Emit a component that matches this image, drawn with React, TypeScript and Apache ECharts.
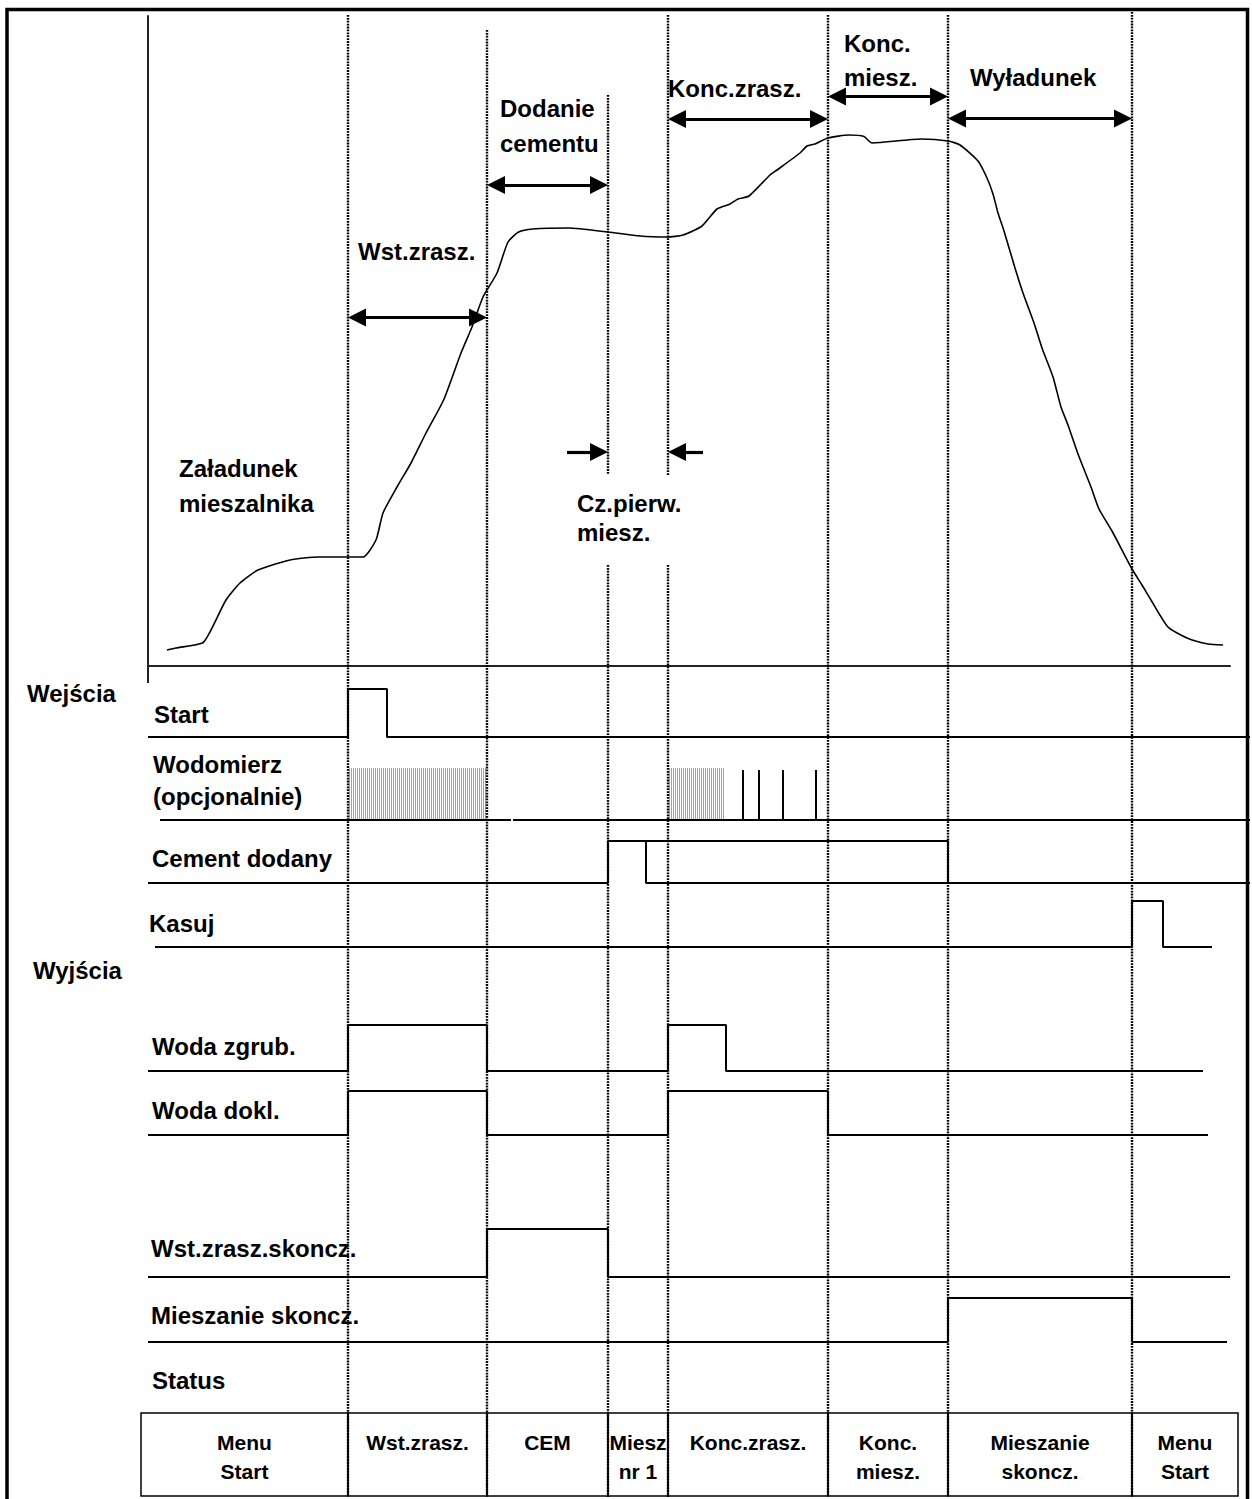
import React, { useEffect, useRef } from "react";
import * as echarts from "echarts";

// ---------------- DATA ----------------
// time axis in arbitrary units; phase boundaries (dotted verticals)
const phaseBounds = [50, 84.75, 115, 130, 170, 200, 246];

// mixer load curve (time, level %)
const curveTime = [4.75, 7, 13.6, 15.75, 19.5, 23, 27.5, 35.5, 42.65, 49.75, 53.75, 57, 58.75, 62.25, 65.75, 69.5, 73.9, 78.25, 81, 83.75, 87.25, 90, 92.65, 96.25, 105.15, 115, 123, 129.75, 133.75, 138.5, 142.25, 145.5, 147.5, 150.25, 155.5, 157.25, 163, 164.75, 166.75, 170, 175.25, 179, 181, 193.25, 200, 203, 207.5, 209.75, 211.25, 212.5, 214, 216.75, 218.75, 221.5, 223.5, 226.25, 228.25, 230, 232.5, 235.75, 237.75, 241, 246, 248.5, 250.75, 255, 259.75, 265, 268.75];
const curveLevel = [3.2, 3.6, 4.6, 7.2, 13.2, 16.6, 19.2, 21.2, 21.8, 21.8, 21.8, 25.2, 30.6, 35.8, 40.6, 46.6, 53.2, 62.6, 67.8, 73.8, 78.6, 84.8, 86.8, 87.4, 87.6, 86.8, 86, 85.8, 86.2, 88, 91.4, 92.4, 93.4, 94, 98.2, 99.2, 102.6, 104, 104.4, 105.6, 106.2, 105.9, 104.6, 105.4, 105, 104.2, 101, 97.6, 94.4, 90.6, 87, 79.6, 74.6, 68.6, 63.6, 57.8, 51.8, 48.2, 42.4, 35.8, 31.4, 27, 19.4, 16.2, 13.2, 7.8, 5.6, 4.4, 4.2];

// phase annotations (double arrows over time spans)
const phaseArrowSpans = [[50, 84.75], [84.75, 115], [130, 170], [170, 200], [200, 246]];
const phaseArrowLevels = [69.7, 96.2, 109.4, 113.9, 109.5];
const mixTimeArrows = [[104.75, 115], [138.75, 130]]; // from -> to (single-headed)
const mixTimeLevel = 42.8;

// digital signals: [time, state]
const sigStart = [[0, 0], [50, 1], [59.75, 0], [275.5, 0]];
const sigWodomierzBase = [[3, 0], [90.75, 0], [91, null], [91.25, 0], [275.5, 0]];
const wodomierzBursts = [[50, 84.75], [130, 144.25]];
const wodomierzPulses = [148.75, 152.75, 158.75, 167];
const sigCementA = [[0, 0], [115, 1], [124.5, 0], [275.5, 0]];
const sigCementB = [[124.5, 1], [200, 0]];
const sigKasuj = [[1.75, 0], [246, 1], [253.75, 0], [266, 0]];
const sigWodaZgrub = [[0, 0], [50, 1], [84.75, 0], [130, 1], [144.5, 0], [263.75, 0]];
const sigWodaDokl = [[0, 0], [50, 1], [84.75, 0], [130, 1], [170, 0], [265, 0]];
const sigWstSkoncz = [[0, 0], [84.75, 1], [115, 0], [270.5, 0]];
const sigMieszSkoncz = [[0, 0], [200, 1], [246, 0], [269.75, 0]];

// status table
const statusSpans = [[-1.75, 50], [50, 84.75], [84.75, 115], [115, 130], [130, 170], [170, 200], [200, 246], [246, 272.5]];
const statusLabels = ["Menu\nStart", "Wst.zrasz.", "CEM", "Miesz\nnr 1", "Konc.zrasz.", "Konc.\nmiesz.", "Mieszanie\nskoncz.", "Menu\nStart"];

// texts
const phaseTexts = ["Załadunek", "mieszalnika", "Wst.zrasz.", "Dodanie", "cementu", "Konc.zrasz.", "Konc.", "miesz.", "Wyładunek", "Cz.pierw.", "miesz."];
const signalTexts = ["Wejścia", "Wyjścia", "Start", "Wodomierz", "(opcjonalnie)", "Cement dodany", "Kasuj", "Woda zgrub.", "Woda dokl.", "Wst.zrasz.skoncz.", "Mieszanie skoncz.", "Status"];

// ---------------- LAYOUT ----------------
const FONT = '"Liberation Sans", Arial, sans-serif';
const LEFT = 148;
const phaseTextPos = [[179, 468], [179, 503], [358, 251], [500, 108], [500, 143], [668, 88], [844, 43], [844, 77], [970, 77], [577, 503], [577, 532]];
const signalTextPos = [[27, 693], [33, 970], [154, 714], [153, 764], [153, 796], [152, 858], [149, 923], [152, 1046], [152, 1110], [151, 1248], [151, 1315], [152, 1380]];
// [highY, lowY] of each signal row
const rowBands = [[689, 737], [768, 820], [841, 883], [901, 947], [1025, 1071], [1091, 1135], [1229, 1277], [1298, 1342]];
const boundTop = [15, 30, 95, 15, 15, 15, 12];
const HEAD = 18;
const HEAD_T = HEAD / 2 / 4;

function buildOption() {
  const grids: any[] = [];
  const xAxes: any[] = [];
  const yAxes: any[] = [];
  const series: any[] = [];

  // grid 0: curve
  grids.push({ left: LEFT, top: 16, width: 1082, height: 650 });
  const axLine = { show: true, onZero: false, lineStyle: { color: "#222", width: 2 } };
  xAxes.push({ gridIndex: 0, type: "value", min: 0, max: 270.5, axisLine: axLine, axisTick: { show: false }, axisLabel: { show: false }, splitLine: { show: false } });
  yAxes.push({ gridIndex: 0, type: "value", min: 0, max: 130, axisLine: axLine, axisTick: { show: false }, axisLabel: { show: false }, splitLine: { show: false } });

  const arrowData: any[] = phaseArrowSpans.map((s, i) => [
    { coord: [s[0] + HEAD_T, phaseArrowLevels[i]] },
    { coord: [s[1] - HEAD_T, phaseArrowLevels[i]] },
  ]);
  mixTimeArrows.forEach((s) => {
    const dir = s[1] > s[0] ? 1 : -1;
    arrowData.push([
      { coord: [s[0], mixTimeLevel], symbol: "none" },
      { coord: [s[1] - dir * HEAD_T, mixTimeLevel], symbol: "triangle" },
    ]);
  });

  series.push({
    type: "line",
    xAxisIndex: 0,
    yAxisIndex: 0,
    data: curveTime.map((t, i) => [t, curveLevel[i]]),
    symbol: "none",
    smooth: 0.2,
    lineStyle: { color: "#000", width: 1.6 },
    silent: true,
    markLine: {
      silent: true,
      animation: false,
      symbol: ["triangle", "triangle"],
      symbolSize: [HEAD, HEAD],
      lineStyle: { color: "#000", width: 3.2, type: "solid" },
      itemStyle: { color: "#000" },
      label: { show: false },
      emphasis: { disabled: true },
      data: arrowData,
    },
  });

  // signal rows
  const rowSignals: any[][] = [
    [sigStart],
    [],
    [sigCementA, sigCementB],
    [sigKasuj],
    [sigWodaZgrub],
    [sigWodaDokl],
    [sigWstSkoncz],
    [sigMieszSkoncz],
  ];
  rowBands.forEach((b, r) => {
    const gi = r + 1;
    grids.push({ left: LEFT, top: b[0], width: 1102, height: b[1] - b[0] });
    xAxes.push({ gridIndex: gi, type: "value", min: 0, max: 275.5, show: false });
    yAxes.push({ gridIndex: gi, type: "value", min: 0, max: 1, show: false });
    rowSignals[r].forEach((sig) => {
      series.push({
        type: "line", xAxisIndex: gi, yAxisIndex: gi, data: sig, step: "end", symbol: "none",
        lineStyle: { color: "#000", width: 2 }, clip: false, silent: true,
      });
    });
  });

  // Wodomierz row (grid 2)
  series.push({
    type: "line", xAxisIndex: 2, yAxisIndex: 2, data: sigWodomierzBase, symbol: "none",
    lineStyle: { color: "#000", width: 2 }, clip: false, silent: true, connectNulls: false,
  });
  series.push({
    type: "custom", xAxisIndex: 2, yAxisIndex: 2, data: wodomierzBursts, silent: true,
    renderItem: (params: any, api: any) => {
      const a = api.coord([api.value(0), 1]);
      const b = api.coord([api.value(1), 0]);
      const children: any[] = [];
      for (let x = Math.round(a[0]) + 1.5; x < b[0]; x += 2) {
        children.push({ type: "line", shape: { x1: x, y1: a[1], x2: x, y2: b[1] }, style: { stroke: "#a3a3a3", lineWidth: 1 } });
      }
      return { type: "group", children };
    },
  });
  series.push({
    type: "custom", xAxisIndex: 2, yAxisIndex: 2, data: wodomierzPulses.map((t) => [t, 0.96]), silent: true,
    renderItem: (params: any, api: any) => {
      const a = api.coord([api.value(0), api.value(1)]);
      const b = api.coord([api.value(0), 0]);
      return { type: "line", shape: { x1: a[0], y1: a[1], x2: b[0], y2: b[1] }, style: { stroke: "#000", lineWidth: 2 } };
    },
  });

  // guide grid (full height) for phase boundaries and status table
  const gg = grids.length;
  grids.push({ left: LEFT, top: 0, width: 1082, height: 1499 });
  xAxes.push({ gridIndex: gg, type: "value", min: 0, max: 270.5, show: false });
  yAxes.push({ gridIndex: gg, type: "value", min: 0, max: 1499, inverse: true, show: false });

  series.push({
    type: "custom", xAxisIndex: gg, yAxisIndex: gg, silent: true, z: 1,
    data: statusSpans,
    renderItem: (params: any, api: any) => {
      const a = api.coord([api.value(0), 1413]);
      const b = api.coord([api.value(1), 1496]);
      return {
        type: "group",
        children: [
          { type: "rect", shape: { x: a[0], y: a[1], width: b[0] - a[0], height: b[1] - a[1] }, style: { fill: "none", stroke: "#000", lineWidth: 1.5 } },
          {
            type: "text",
            style: {
              text: statusLabels[params.dataIndex], x: (a[0] + b[0]) / 2, y: 1428, align: "center", verticalAlign: "top",
              font: `bold 21px ${FONT}`, lineHeight: 29, fill: "#000",
            },
          },
        ],
      };
    },
  });

  series.push({
    type: "custom", xAxisIndex: gg, yAxisIndex: gg, silent: true, z: 3,
    data: phaseBounds.map((t, i) => [t, i]),
    renderItem: (params: any, api: any) => {
      const i = params.dataIndex;
      const x = api.coord([api.value(0), 0])[0];
      const segs = i === 2 || i === 3 ? [[boundTop[i], 475], [565, 1497]] : [[boundTop[i], 1497]];
      return {
        type: "group",
        children: segs.map((s) => ({
          type: "line", shape: { x1: x, y1: s[0], x2: x, y2: s[1] },
          style: { stroke: "#000", lineWidth: 2.4, lineDash: [1.8, 1.1] },
        })),
      };
    },
  });

  const graphic: any[] = [
    { type: "rect", shape: { x: 7, y: 9.5, width: 1240.5, height: 1520 }, style: { fill: "none", stroke: "#000", lineWidth: 3.5 }, silent: true },
    { type: "line", shape: { x1: LEFT, y1: 665, x2: LEFT, y2: 683 }, style: { stroke: "#222", lineWidth: 2 }, silent: true },
  ];
  phaseTexts.forEach((t, i) => {
    graphic.push({ type: "text", x: phaseTextPos[i][0], y: phaseTextPos[i][1], silent: true,
      style: { text: t, font: `bold 24px ${FONT}`, fill: "#000", verticalAlign: "middle", align: "left" } });
  });
  signalTexts.forEach((t, i) => {
    graphic.push({ type: "text", x: signalTextPos[i][0], y: signalTextPos[i][1], silent: true,
      style: { text: t, font: `bold 24px ${FONT}`, fill: "#000", verticalAlign: "middle", align: "left" } });
  });

  return {
    animation: false,
    backgroundColor: "#fff",
    grid: grids,
    xAxis: xAxes,
    yAxis: yAxes,
    series,
    graphic,
  };
}

export default function App() {
  const ref = useRef<HTMLDivElement>(null);
  useEffect(() => {
    const chart = echarts.init(ref.current as HTMLDivElement, undefined, { renderer: "svg" });
    chart.setOption(buildOption() as any);
    return () => chart.dispose();
  }, []);
  return (
    <div
      ref={ref}
      style={{ position: "absolute", left: 0, top: 0, width: 1252, height: 1499, background: "#fff" }}
    />
  );
}
